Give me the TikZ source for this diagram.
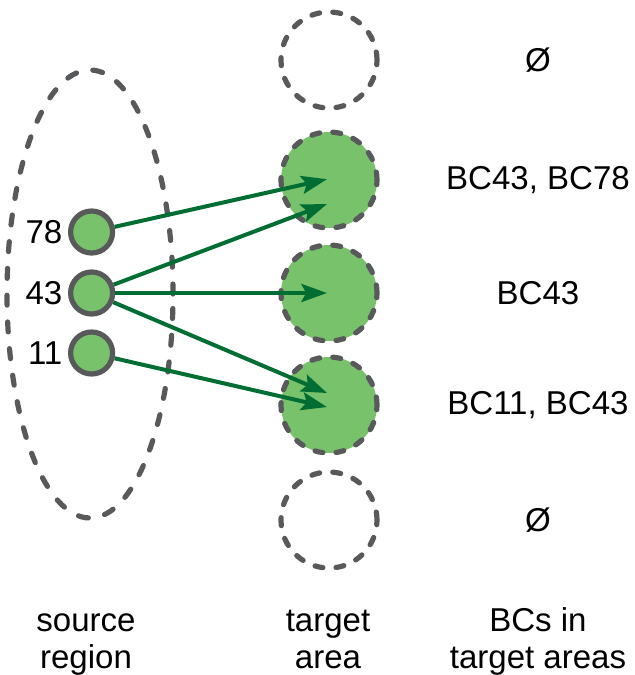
\documentclass[tikz,border=0pt]{standalone}
\usepackage{fontspec}
\setmainfont{Liberation Sans}
\usetikzlibrary{arrows.meta}
\usetikzlibrary{shapes}
\usetikzlibrary{positioning}
\usetikzlibrary{calc}

\definecolor{edgegray}{RGB}{88,89,91}
\definecolor{cellgreen}{RGB}{120,194,108}
\definecolor{arrowgreen}{RGB}{0,110,50}

\begin{document}
\begin{tikzpicture}[
    every node/.style={font=\fontsize{23.5}{26}\selectfont},
    dashline/.style={draw=edgegray, line width=0.13cm, line cap=round, dash pattern=on 0.2cm off 0.33cm},
    source/.style={draw=edgegray, fill=cellgreen, circle, line width=0.13cm, minimum size=1.05cm, inner sep=0pt},
    target/.style={dashline, circle, minimum size=2.4cm, inner sep=0pt},
    hit/.style={target, fill=cellgreen},
    link/.style={draw=arrowgreen, line width=0.1cm, -{Stealth[length=0.64cm,width=0.45cm,inset=0.12cm]}}
]
    \useasboundingbox (0,0) rectangle (15.875,-16.875);

    \node[dashline, dash pattern=on 0.25cm off 0.42cm, ellipse, minimum width=4.15cm, minimum height=11.2cm, inner sep=0pt] (region) at (2.25,-7.35) {};

    \node[source] (s78) at (2.29,-5.8) {};
    \node[source] (s43) at (2.29,-7.325) {};
    \node[source] (s11) at (2.29,-8.825) {};
    \node[left=0.1cm of s78, inner sep=1pt] (l78) {78};
    \node[left=0.1cm of s43, inner sep=1pt] (l43) {43};
    \node[left=0.1cm of s11, inner sep=1pt] (l11) {11};

    \node[target] (t1) at (8.225,-1.5) {};
    \node[hit] (t2) at (8.225,-4.5) {};
    \node[hit] (t3) at (8.225,-7.325) {};
    \node[hit] (t4) at (8.225,-10.125) {};
    \node[target] (t5) at (8.225,-13.0) {};

    \node (bc1) at (13.45,-1.5) {Ø};
    \node (bc2) at (13.45,-4.5) {BC43, BC78};
    \node (bc3) at (13.45,-7.325) {BC43};
    \node (bc4) at (13.45,-10.125) {BC11, BC43};
    \node (bc5) at (13.45,-13.0) {Ø};

    % arrow tips inside the target areas
    \coordinate (a78) at ($(t2)+(-0.05,0.02)$);
    \coordinate (a43up) at ($(t2)+(-0.05,-0.6)$);
    \coordinate (a43mid) at ($(t3)+(-0.05,0)$);
    \coordinate (a43low) at ($(t4)+(-0.05,0.3)$);
    \coordinate (a11) at ($(t4)+(-0.05,-0.05)$);

    \draw[link] (s78) to (a78);
    \draw[link] (s43) to (a43up);
    \draw[link] (s43) to (a43mid);
    \draw[link] (s43) to (a43low);
    \draw[link] (s11) to (a11);

    \node[align=center] (cap1) at (2.15,-16.07) {\strut source\\region\strut};
    \node[align=center] (cap2) at (8.2,-16.07) {\strut target\\area\strut};
    \node[align=center] (cap3) at (13.45,-16.07) {\strut BCs in\\target areas\strut};
\end{tikzpicture}
\end{document}
